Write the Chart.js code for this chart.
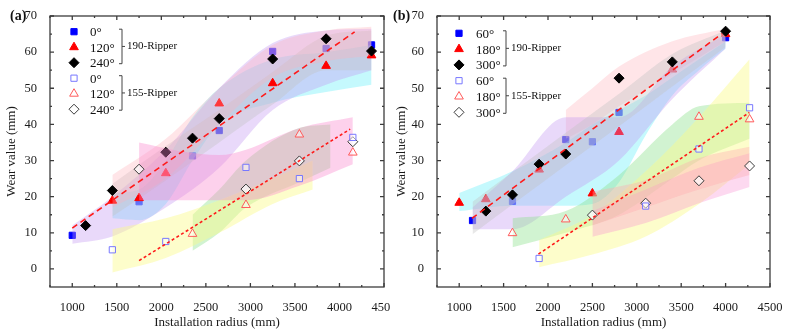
<!DOCTYPE html>
<html>
<head>
<meta charset="UTF-8">
<script src="https://cdn.jsdelivr.net/npm/chart.js@4.4.0/dist/chart.umd.min.js"></script>
<style>
  body { margin: 0; background: #fff; }
  .row { display: flex; width: 793px; height: 331px; }
  canvas { display: block; }
</style>
</head>
<body>
<div class="row">
  <canvas id="chartA" width="390" height="331"></canvas>
  <canvas id="chartB" width="403" height="331"></canvas>
</div>
<script>
// axis ticks
const xTicks = [1000, 1500, 2000, 2500, 3000, 3500, 4000, 4500];
const yTicks = [0, 10, 20, 30, 40, 50, 60, 70];

// ---- panel (a) ----
const aAngles = ['0°', '120°', '240°'];
const a190_0x = [1000, 1750, 2350, 2650, 3250, 3850, 4360];
const a190_0y = [9.3, 18.6, 31.3, 38.3, 60.2, 61, 62];
const a190_120x = [1450, 1750, 2050, 2650, 3250, 3850, 4360];
const a190_120y = [18.9, 19.6, 26.5, 45.8, 51.4, 56.2, 59.1];
const a190_240x = [1150, 1450, 2050, 2350, 2650, 3250, 3850, 4360];
const a190_240y = [12, 21.7, 32.3, 36.2, 41.6, 58.1, 63.7, 60.3];
const a155_0x = [1450, 2050, 2950, 3550, 4150];
const a155_0y = [5.3, 7.6, 28.1, 25, 36.4];
const a155_120x = [2350, 2950, 3550, 4150];
const a155_120y = [9.7, 17.7, 37.2, 32.2];
const a155_240x = [1750, 2950, 3550, 4150];
const a155_240y = [27.6, 22.1, 29.9, 35.2];
const aFit190x = [1000, 4170], aFit190y = [11.3, 65.6];
const aFit155x = [1750, 4120], aFit155y = [2.3, 38.7];

// shaded bands (a): x, lower, upper
const aPurpleX = [1000, 1450, 2050, 2650, 3250, 3850, 4360];
const aPurpleLo = [7, 9, 17, 28, 44, 51, 55];
const aPurpleHi = [12, 20, 33, 50, 62.5, 66, 66.5];
const aCyanX = [1450, 1750, 2050, 2350, 2650, 3250, 3850, 4360];
const aCyanLo = [14, 13.5, 18, 30, 40, 46, 49, 51];
const aCyanHi = [21, 22, 30, 42, 50, 58, 60, 62];
const aGreyX = [1450, 2050, 2650, 3250, 3850, 4360];
const aGreyLo = [14.5, 24.5, 35, 45.5, 55, 55];
const aGreyHi = [23.5, 34, 44, 54.5, 64.5, 66];
const aPinkX = [1450, 2050, 2650, 3250, 3850, 4360];
const aPinkLo = [17, 25, 40, 53, 57.5, 59];
const aPinkHi = [26, 36, 50, 62, 66, 67];
const aMagX = [1750, 2230, 2650, 2950, 3550, 4150];
const aMagLo = [19, 19, 19, 19, 23, 29];
const aMagHi = [35, 32.5, 31.5, 33, 39, 42];
const aYelX = [1450, 2050, 2650, 3250, 3700];
const aYelLo = [-1, 3, 10, 18, 22];
const aYelHi = [11, 14, 19, 25, 30];
const aGreenX = [2350, 2650, 2950, 3550, 3900];
const aGreenLo = [5, 10, 17, 24, 28];
const aGreenHi = [15, 22, 30, 39, 40];

// ---- panel (b) ----
const bAngles = ['60°', '180°', '300°'];
const b190_60x = [1150, 1600, 2200, 2500, 2800, 4000];
const b190_60y = [13.4, 18.7, 35.8, 35.2, 43.3, 64];
const b190_180x = [1000, 1300, 1900, 2500, 2800, 3400, 4000];
const b190_180y = [18.3, 19.3, 27.5, 20.9, 37.9, 55.2, 65];
const b190_300x = [1300, 1600, 1900, 2200, 2800, 3400, 4000];
const b190_300y = [16, 20.5, 29, 31.8, 52.8, 57.3, 65.8];
const b155_60x = [1900, 3100, 3700, 4270];
const b155_60y = [2.9, 17.4, 33.2, 44.6];
const b155_180x = [1600, 2200, 3700, 4270];
const b155_180y = [9.9, 13.7, 42.1, 41.4];
const b155_300x = [2500, 3100, 3700, 4270];
const b155_300y = [14.9, 18.2, 24.4, 28.5];
const bFit190x = [1143, 3958], bFit190y = [14, 65.1];
const bFit155x = [1892, 4268], bFit155y = [4.1, 43.3];

const bCyanX = [1000, 1600, 2200, 2500, 2800, 3100, 3400, 3700, 4000];
const bCyanLo = [16, 17.5, 17.5, 18, 24, 37, 48, 55, 61];
const bCyanHi = [21, 27, 35, 40, 44, 48, 53, 58, 63];
const bGreyX = [1150, 1600, 2200, 2800, 3400, 4000];
const bGreyLo = [9.6, 17.8, 28.7, 39.5, 50.5, 61.4];
const bGreyHi = [18.6, 26.8, 37.7, 48.5, 59.5, 66];
const bPurpleX = [1150, 1600, 2200, 2800, 3400, 4000];
const bPurpleLo = [11, 11, 20, 30, 47, 61];
const bPurpleHi = [17, 27, 42, 42, 56, 65];
const bPinkX = [2200, 2500, 2800, 3400, 4000];
const bPinkLo = [36, 40, 45, 54, 63];
const bPinkHi = [44, 50, 56, 63, 66.5];
const bGreenX = [1600, 2200, 2800, 3400, 3700, 4270];
const bGreenLo = [6, 10, 15, 25, 30, 36];
const bGreenHi = [14, 16, 26, 40, 45, 46];
const bYelX = [1900, 2500, 3100, 3700, 4270];
const bYelLo = [0.5, 4, 9, 18, 29];
const bYelHi = [8, 15, 27, 42, 58];
const bSalX = [2500, 3100, 3700, 4270];
const bSalLo = [12, 17, 22, 26];
const bSalHi = [21.4, 24.6, 30.7, 33.8];
const bMagX = [2500, 3100, 3700, 4270];
const bMagLo = [8.9, 12.7, 18.2, 22.7];
const bMagHi = [16, 22, 28, 32];

const SERIF = '"Liberation Serif", "Times New Roman", serif';

const mk = {
  sq:   { pointStyle: 'rect', radius: 4.4, bg: '#0000ff', bd: '#0000ff', open: false },
  tri:  { pointStyle: 'triangle', radius: 5, bg: '#ff0000', bd: '#ff0000', open: false },
  dia:  { pointStyle: 'rectRot', radius: 5, bg: '#000000', bd: '#000000', open: false },
  sqO:  { pointStyle: 'rect', radius: 4.4, bg: 'rgba(255,255,255,0.5)', bd: '#7878ff', open: true },
  triO: { pointStyle: 'triangle', radius: 5, bg: 'rgba(255,255,255,0.5)', bd: '#ff5a5a', open: true },
  diaO: { pointStyle: 'rectRot', radius: 5, bg: 'rgba(255,255,255,0.7)', bd: '#3a3a3a', open: true }
};

const pts = (xs, ys) => xs.map((x, i) => ({ x: x, y: ys[i] }));

function markers(xs, ys, m, order) {
  return {
    type: 'scatter', data: pts(xs, ys), order: order,
    pointStyle: m.pointStyle, pointRadius: m.radius,
    backgroundColor: m.bg, borderColor: m.bd, borderWidth: 1
  };
}

function band(xs, lo, hi, color, order) {
  const base = { type: 'line', borderWidth: 0, pointRadius: 0, cubicInterpolationMode: 'monotone', order: order };
  return [
    Object.assign({}, base, { data: pts(xs, lo), fill: false }),
    Object.assign({}, base, { data: pts(xs, hi), fill: '-1', backgroundColor: color })
  ];
}

function fitLine(xs, ys, dash) {
  return { type: 'line', data: pts(xs, ys), borderColor: '#ff1a1a', borderWidth: 1.6,
           borderDash: dash, pointRadius: 0, fill: false, order: 0 };
}

// inward ticks, frame, legend and panel label
const framePlugin = {
  id: 'frame',
  afterDraw(chart, args, o) {
    const { ctx, chartArea: a, scales: { x, y } } = chart;
    ctx.save();
    ctx.strokeStyle = '#3c3c3c';
    ctx.lineWidth = 1.3;
    ctx.strokeRect(a.left, a.top, a.right - a.left, a.bottom - a.top);
    ctx.beginPath();
    const tx = (v, len) => {
      const p = x.getPixelForValue(v);
      ctx.moveTo(p, a.bottom); ctx.lineTo(p, a.bottom - len);
      ctx.moveTo(p, a.top); ctx.lineTo(p, a.top + len);
    };
    const ty = (v, len) => {
      const p = y.getPixelForValue(v);
      ctx.moveTo(a.left, p); ctx.lineTo(a.left + len, p);
      ctx.moveTo(a.right, p); ctx.lineTo(a.right - len, p);
    };
    xTicks.forEach(v => { tx(v, 4); if (v + 250 < x.max) tx(v + 250, 2); });
    tx(xTicks[0] - 250, 2);
    yTicks.forEach(v => { ty(v, 4); if (v + 5 < y.max) ty(v + 5, 2); });
    ctx.stroke();

    // panel label
    ctx.fillStyle = '#111';
    ctx.font = 'bold 14px ' + SERIF;
    ctx.textBaseline = 'middle';
    ctx.textAlign = 'left';
    ctx.fillText(o.label, o.labelX, 16);

    // legend
    const L = o.legend;
    const styles = [mk.sq, mk.tri, mk.dia, mk.sqO, mk.triO, mk.diaO];
    ctx.font = '13px ' + SERIF;
    styles.forEach((m, i) => {
      const ry = L.y0 + L.dy * i;
      ctx.fillStyle = m.open ? '#ffffff' : m.bg;
      ctx.strokeStyle = m.bd;
      ctx.lineWidth = 1;
      Chart.helpers.drawPoint(ctx, { pointStyle: m.pointStyle, radius: m.radius, rotation: 0, borderWidth: 1 }, L.mx, ry);
      ctx.fillStyle = '#111';
      ctx.fillText(L.names[i % 3], L.tx, ry + 1);
    });
    ctx.strokeStyle = '#444';
    ctx.lineWidth = 1;
    ctx.font = '11px ' + SERIF;
    [0, 3].forEach((s, k) => {
      const t = L.y0 + L.dy * s - 2.5, b = L.y0 + L.dy * (s + 2) + 1, m = (t + b) / 2;
      ctx.beginPath();
      ctx.moveTo(L.bx - 3, t); ctx.lineTo(L.bx, t); ctx.lineTo(L.bx, b); ctx.lineTo(L.bx - 3, b);
      ctx.moveTo(L.bx, m); ctx.lineTo(L.bx + 3, m);
      ctx.stroke();
      ctx.fillStyle = '#111';
      ctx.fillText(k === 0 ? '190-Ripper' : '155-Ripper', L.bx + 5, m);
    });
    ctx.restore();
  }
};

function makeChart(id, datasets, yWidth, padRight, frameOpts) {
  const tickFont = { family: SERIF, size: 12.5 };
  const titleFont = { family: SERIF, size: 13 };
  return new Chart(document.getElementById(id), {
    type: 'scatter',
    data: { datasets: datasets },
    plugins: [framePlugin],
    options: {
      responsive: false,
      animation: false,
      events: [],
      devicePixelRatio: 1,
      layout: { padding: { left: 0, right: padRight, top: 16, bottom: 0 } },
      plugins: { legend: { display: false }, tooltip: { enabled: false }, frame: frameOpts },
      scales: {
        x: {
          type: 'linear', min: 750, max: 4500,
          afterBuildTicks: s => { s.ticks = xTicks.map(v => ({ value: v })); },
          afterFit: s => { s.height = 44; s.paddingLeft = 0; s.paddingRight = 0; },
          ticks: { font: tickFont, color: '#1a1a1a', padding: 5, maxRotation: 0, autoSkip: false,
                   callback: v => String(v) },
          grid: { display: false }, border: { display: false },
          title: { display: true, text: 'Installation radius (mm)', font: titleFont, color: '#1a1a1a', padding: { top: 0, bottom: 1 } }
        },
        y: {
          type: 'linear', min: -5, max: 70,
          afterBuildTicks: s => { s.ticks = yTicks.map(v => ({ value: v })); },
          afterFit: s => { s.width = yWidth; s.paddingTop = 0; s.paddingBottom = 0; },
          ticks: { font: tickFont, color: '#1a1a1a', padding: 5, autoSkip: false,
                   callback: v => String(v) },
          grid: { display: false }, border: { display: false },
          title: { display: true, text: 'Wear value (mm)', font: titleFont, color: '#1a1a1a', padding: { top: 4, bottom: 0 } }
        }
      }
    }
  });
}

// panel (a)
const dsA = [].concat(
  [fitLine(aFit190x, aFit190y, [6, 4]), fitLine(aFit155x, aFit155y, [3, 2.5])],
  [markers(a155_0x, a155_0y, mk.sqO, 1), markers(a155_120x, a155_120y, mk.triO, 1), markers(a155_240x, a155_240y, mk.diaO, 1)],
  band(aMagX, aMagLo, aMagHi, 'rgba(250,135,205,0.38)', 2),
  band(aYelX, aYelLo, aYelHi, 'rgba(250,250,140,0.45)', 2),
  band(aGreenX, aGreenLo, aGreenHi, 'rgba(140,225,140,0.4)', 2),
  [markers(a190_240x, a190_240y, mk.dia, 3)],
  band(aPinkX, aPinkLo, aPinkHi, 'rgba(255,175,185,0.32)', 4),
  [markers(a190_120x, a190_120y, mk.tri, 5)],
  band(aGreyX, aGreyLo, aGreyHi, 'rgba(195,195,195,0.38)', 6),
  band(aPurpleX, aPurpleLo, aPurpleHi, 'rgba(195,150,240,0.36)', 6),
  band(aCyanX, aCyanLo, aCyanHi, 'rgba(110,240,250,0.4)', 6),
  [markers(a190_0x, a190_0y, mk.sq, 7)]
);
makeChart('chartA', dsA, 50, 4, {
  label: '(a)', labelX: 10,
  legend: { names: aAngles, mx: 74, tx: 90, bx: 122, y0: 31.7, dy: 15.5 }
});

// panel (b)
const dsB = [].concat(
  [fitLine(bFit190x, bFit190y, [6, 4]), fitLine(bFit155x, bFit155y, [3, 2.5])],
  [markers(b155_60x, b155_60y, mk.sqO, 1), markers(b155_180x, b155_180y, mk.triO, 1), markers(b155_300x, b155_300y, mk.diaO, 1)],
  band(bSalX, bSalLo, bSalHi, 'rgba(255,170,175,0.38)', 2),
  band(bMagX, bMagLo, bMagHi, 'rgba(250,140,210,0.33)', 2),
  band(bYelX, bYelLo, bYelHi, 'rgba(250,250,140,0.45)', 2),
  band(bGreenX, bGreenLo, bGreenHi, 'rgba(140,225,140,0.4)', 2),
  [markers(b190_300x, b190_300y, mk.dia, 3)],
  band(bGreyX, bGreyLo, bGreyHi, 'rgba(195,195,195,0.38)', 4),
  band(bPurpleX, bPurpleLo, bPurpleHi, 'rgba(195,150,240,0.36)', 4),
  band(bPinkX, bPinkLo, bPinkHi, 'rgba(255,175,185,0.32)', 4),
  [markers(b190_180x, b190_180y, mk.tri, 5)],
  band(bCyanX, bCyanLo, bCyanHi, 'rgba(110,240,250,0.4)', 6),
  [markers(b190_60x, b190_60y, mk.sq, 7)]
);
makeChart('chartB', dsB, 47, 23, {
  label: '(b)', labelX: 3,
  legend: { names: bAngles, mx: 69, tx: 86, bx: 116, y0: 33.3, dy: 15.8 }
});
</script>
</body>
</html>
